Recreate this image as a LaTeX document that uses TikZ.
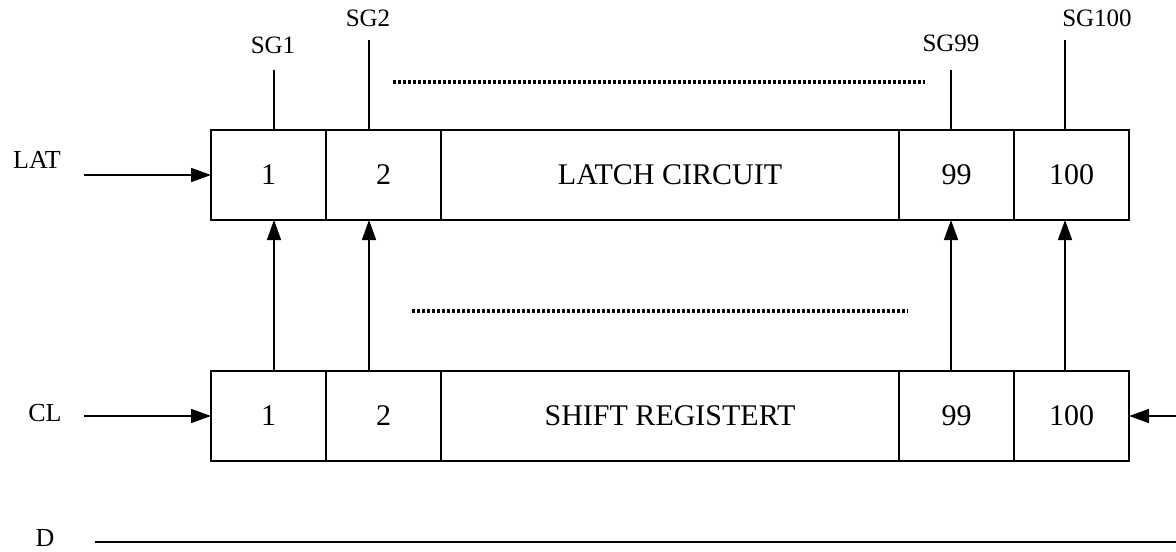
\documentclass[tikz,border=0pt]{standalone}
\usepackage{fontspec}
\setmainfont{Liberation Serif}
\usetikzlibrary{positioning,arrows.meta}

\tikzset{
  cell/.style={draw, line width=0.8pt, minimum height=45pt, minimum width=57.5pt, inner sep=0pt, outer sep=0pt, font=\fontsize{15}{18}\selectfont},
  sglabel/.style={font=\fontsize{12.5}{15}\selectfont, inner sep=0pt},
  sidelabel/.style={font=\fontsize{13}{15}\selectfont, inner sep=0pt},
  wire/.style={line width=0.8pt},
  sig/.style={line width=0.8pt, -{Triangle[length=10pt,width=7pt]}},
  dots/.style={line width=2pt, dash pattern=on 1.5pt off 1pt}
}

\begin{document}
\begin{tikzpicture}[x=0.5pt,y=-0.5pt]
    \useasboundingbox (0,0) rectangle (1176,551);
    % Latch circuit
    \node[cell, anchor=north west] (l1) at (211,130) {1};
    \node[cell, right=0pt of l1] (l2) {2};
    \node[cell, minimum width=229pt, right=0pt of l2] (lmid) {LATCH CIRCUIT};
    \node[cell, right=0pt of lmid] (l99) {99};
    \node[cell, right=0pt of l99] (l100) {100};
    % Shift register
    \node[cell, anchor=north west] (s1) at (211,371) {1};
    \node[cell, right=0pt of s1] (s2) {2};
    \node[cell, minimum width=229pt, right=0pt of s2] (smid) {SHIFT REGISTERT};
    \node[cell, right=0pt of smid] (s99) {99};
    \node[cell, right=0pt of s99] (s100) {100};
    % Shift register to latch
    \draw[sig] ([xshift=2.75pt]s1.north) -- ([xshift=2.75pt]l1.south);
    \draw[sig] ([xshift=-7.25pt]s2.north) -- ([xshift=-7.25pt]l2.south);
    \draw[sig] ([xshift=-2.75pt]s99.north) -- ([xshift=-2.75pt]l99.south);
    \draw[sig] ([xshift=-3.25pt]s100.north) -- ([xshift=-3.25pt]l100.south);
    % Segment outputs
    \node[sglabel] (sg1) at (273,45) {SG1};
    \node[sglabel] (sg2) at (368,18) {SG2};
    \node[sglabel] (sg99) at (951,43) {SG99};
    \node[sglabel] (sg100) at (1097,18) {SG100};
    \coordinate (sg1top) at (274,70);
    \coordinate (sg2top) at (369,40);
    \coordinate (sg99top) at (951,70);
    \coordinate (sg100top) at (1065,40);
    \draw[wire] ([xshift=2.75pt]l1.north) -- (sg1top);
    \draw[wire] ([xshift=-7.25pt]l2.north) -- (sg2top);
    \draw[wire] ([xshift=-2.75pt]l99.north) -- (sg99top);
    \draw[wire] ([xshift=-3.25pt]l100.north) -- (sg100top);
    % Dotted gaps
    \coordinate (dotsa) at (393,82);
    \coordinate (dotsb) at (925,82);
    \coordinate (dotsc) at (412,311);
    \coordinate (dotsd) at (908,311);
    \draw[dots] (dotsa) -- (dotsb);
    \draw[dots] (dotsc) -- (dotsd);
    % Inputs
    \node[sidelabel] (lat) at (37,160) {LAT};
    \coordinate (latin) at (84,175);
    \draw[sig] (latin) -- (l1.west);
    \node[sidelabel] (cl) at (45,413) {CL};
    \coordinate (clin) at (84,416);
    \draw[sig] (clin) -- (s1.west);
    \coordinate (rin) at (1176,416);
    \draw[sig] (rin) -- (s100.east);
    \node[sidelabel] (d) at (45,538) {D};
    \coordinate (dleft) at (95,542);
    \coordinate (dright) at (1176,542);
    \draw[wire] (dleft) -- (dright);
\end{tikzpicture}
\end{document}
